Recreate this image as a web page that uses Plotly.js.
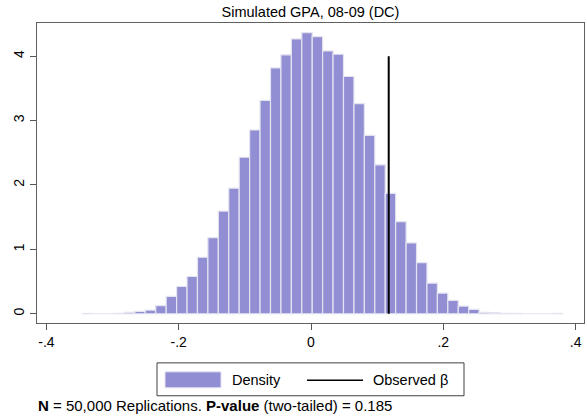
<!DOCTYPE html>
<html>
<head>
<meta charset="utf-8">
<script src="https://cdn.plot.ly/plotly-3.0.1.min.js"></script>
<style>html,body{margin:0;padding:0;background:#fff;}#chart{width:587px;height:417px;}</style>
</head>
<body>
<div id="chart"></div>
<script>
// Histogram of simulated coefficients (density scale)
const binStart = -0.3451;
const binWidth = 0.01577;
const density = [
  0.004, 0, 0, 0.005, 0.02, 0.036, 0.057, 0.124,
  0.268, 0.423, 0.578, 0.877, 1.182, 1.594, 1.950, 2.430, 2.853, 3.313,
  3.818, 4.020, 4.267, 4.365, 4.303, 4.082, 4.030, 3.684, 3.261, 2.771,
  2.312, 1.868, 1.429, 1.099, 0.795, 0.475, 0.320, 0.206, 0.119, 0.067,
  0.02, 0.015, 0.005, 0.005, 0, 0, 0, 0.005
];
const observedBeta = 0.1175;
const observedLineY = [0, 4];
const xTickVals = [-0.4, -0.2, 0, 0.2, 0.4];
const xTickText = ['-.4', '-.2', '0', '.2', '.4'];
const yTickVals = [0, 1, 2, 3, 4];
const yTickText = ['0', '1', '2', '3', '4'];
const titleText = 'Simulated GPA, 08-09 (DC)';
const legendLabels = ['Density', 'Observed \u03b2'];
const noteText = '<b>N</b> = 50,000 Replications. <b>P-value</b> (two-tailed) = 0.185';

const barFill = 'rgb(146,142,212)';
const font = '"Liberation Sans", Arial, Helvetica, sans-serif';

const binCenters = density.map((_, i) => binStart + (i + 0.5) * binWidth);

const traces = [
  {
    type: 'bar',
    x: binCenters,
    y: density,
    width: density.map(() => binWidth),
    marker: { color: barFill, line: { color: 'rgb(228,228,240)', width: 1.2 } },
    name: legendLabels[0],
    showlegend: false,
    hoverinfo: 'skip'
  },
  {
    type: 'scatter',
    mode: 'lines',
    x: [observedBeta, observedBeta],
    y: observedLineY,
    line: { color: '#000', width: 2 },
    name: legendLabels[1],
    showlegend: false,
    hoverinfo: 'skip'
  }
];

// plot area in pixels: x 37..584, y 23..324
const W = 547, H = 301, L = 37, T = 23;
const px = v => (v - L) / W;
const py = v => (T + H - v) / H;

const layout = {
  width: 587,
  height: 417,
  margin: { l: 37, r: 3, t: 23, b: 94, pad: 0 },
  paper_bgcolor: '#fff',
  plot_bgcolor: '#fff',
  font: { family: font, size: 14, color: '#000' },
  bargap: 0,
  showlegend: false,
  title: {
    text: titleText,
    font: { family: font, size: 14.5, color: '#000' },
    x: 0.5, xref: 'paper', xanchor: 'center',
    y: 1 - 12 / 417, yref: 'container', yanchor: 'middle'
  },
  xaxis: {
    range: [-0.4142, 0.4127],
    tickvals: xTickVals,
    ticktext: xTickText,
    ticks: 'outside',
    ticklen: 6,
    tickwidth: 1,
    tickcolor: '#555',
    showline: true,
    linecolor: '#606060',
    linewidth: 1,
    mirror: true,
    showgrid: false,
    zeroline: false,
    tickfont: { family: font, size: 14, color: '#000' }
  },
  yaxis: {
    range: [-0.144, 4.515],
    tickvals: yTickVals,
    ticktext: yTickText,
    tickangle: -90,
    ticks: 'outside',
    ticklen: 6,
    tickwidth: 1,
    tickcolor: '#555',
    showline: true,
    linecolor: '#606060',
    linewidth: 1,
    mirror: true,
    showgrid: false,
    zeroline: false,
    tickfont: { family: font, size: 14, color: '#000' }
  },
  shapes: [
    { type: 'rect', xref: 'paper', yref: 'paper', x0: px(157), x1: px(464), y0: py(397), y1: py(364),
      line: { color: '#404040', width: 1 }, fillcolor: '#fff', layer: 'above' },
    { type: 'rect', xref: 'paper', yref: 'paper', x0: px(165), x1: px(221), y0: py(389), y1: py(373),
      line: { color: 'rgb(228,228,240)', width: 1 }, fillcolor: barFill, layer: 'above' },
    { type: 'line', xref: 'paper', yref: 'paper', x0: px(307), x1: px(363), y0: py(381.5), y1: py(381.5),
      line: { color: '#000', width: 1.5 }, layer: 'above' }
  ],
  annotations: [
    { xref: 'paper', yref: 'paper', x: px(230), y: py(381), xanchor: 'left', yanchor: 'middle',
      text: legendLabels[0], showarrow: false, font: { family: font, size: 14.5, color: '#000' } },
    { xref: 'paper', yref: 'paper', x: px(371), y: py(381), xanchor: 'left', yanchor: 'middle',
      text: legendLabels[1], showarrow: false, font: { family: font, size: 14.5, color: '#000' } },
    { xref: 'paper', yref: 'paper', x: px(37), y: py(416), xanchor: 'left', yanchor: 'bottom',
      text: noteText, showarrow: false, borderpad: 0, font: { family: font, size: 15, color: '#000' } }
  ]
};

Plotly.newPlot('chart', traces, layout, { staticPlot: true, displayModeBar: false });
</script>
</body>
</html>
